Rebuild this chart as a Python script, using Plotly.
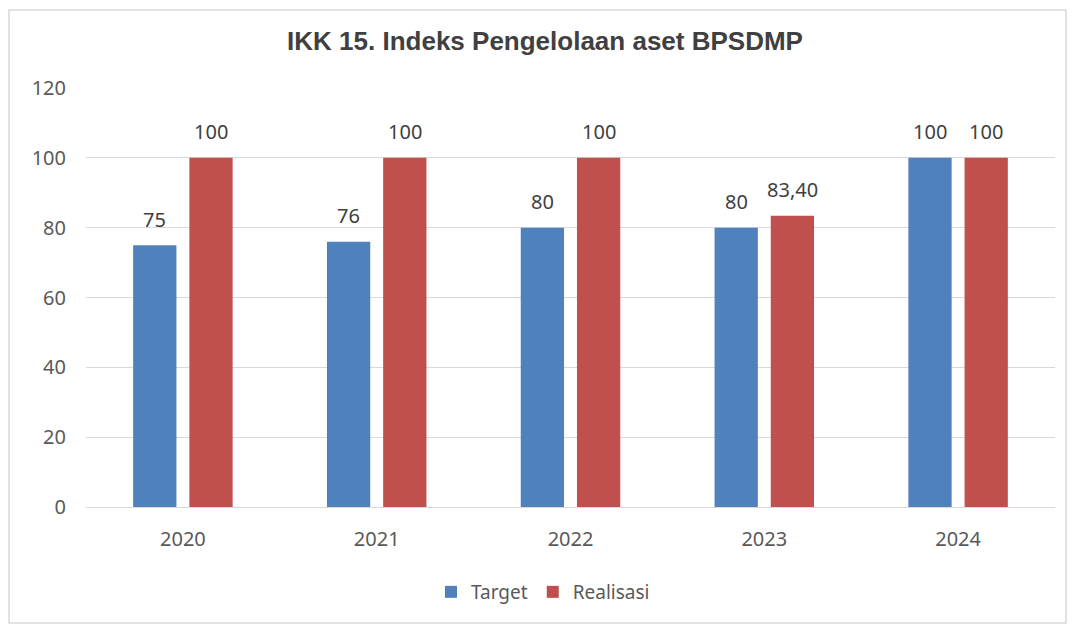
import plotly.graph_objects as go

years = ["2020", "2021", "2022", "2023", "2024"]
target = [75, 76, 80, 80, 100]
realisasi = [100, 100, 100, 83.40, 100]
target_labels = ["75", "76", "80", "80", "100"]
realisasi_labels = ["100", "100", "100", "83,40", "100"]
y_ticks = [0, 20, 40, 60, 80, 100, 120]

BLUE = "#4F81BD"
RED = "#C0504D"
FONT = "Noto Sans"
LABEL_COLOR = "#404040"

# The page body adds an 8px margin; figure coordinates are laid out accordingly.
W, H = 1067, 619
ML, MR, MT, MB = 78, 20, 80, 120
PW, PH = W - ML - MR, H - MT - MB


def px_x(p):
    return (p - ML) / PW


def px_y(p):
    return (H - MB - p) / PH


fig = go.Figure()
fig.add_trace(go.Bar(name="Target", x=years, y=target, marker_color=BLUE,
                     marker_line_width=0))
fig.add_trace(go.Bar(name="Realisasi", x=years, y=realisasi, marker_color=RED,
                     marker_line_width=0))

# Data labels: on a category axis annotations use the category index.
annotations = []
for labels, vals, dx in ((target_labels, target, -28), (realisasi_labels, realisasi, 28)):
    for i, (v, lab) in enumerate(zip(vals, labels)):
        annotations.append(dict(x=i, y=v, xref="x", yref="y", text=lab,
                                showarrow=False, xshift=dx, yshift=26,
                                yanchor="middle", xanchor="center",
                                font=dict(family=FONT, size=20, color=LABEL_COLOR)))

fig.update_layout(
    width=W, height=H,
    margin=dict(l=ML, r=MR, t=MT, b=MB, autoexpand=False),
    paper_bgcolor="white", plot_bgcolor="white",
    barmode="group", bargap=0.42, bargroupgap=0.23,
    title=dict(text="<b>IKK 15. Indeks Pengelolaan aset BPSDMP</b>",
               x=537 / W, xanchor="center", y=1 - 33 / H, yanchor="middle",
               xref="container", yref="container",
               font=dict(family="Liberation Sans", size=26, color="#404040")),
    xaxis=dict(type="category", categoryorder="array", categoryarray=years,
               range=[-0.5, len(years) - 0.5],
               showgrid=False, showline=True, linecolor="#D9D9D9", linewidth=1,
               tickfont=dict(family=FONT, size=20, color="#595959"), ticks="",
               ticklabelstandoff=14, automargin=False),
    yaxis=dict(range=[0, 120], tickvals=y_ticks, showgrid=True,
               gridcolor="#D9D9D9", gridwidth=1, zeroline=False, showline=False,
               tickfont=dict(family=FONT, size=20, color="#595959"),
               ticklabelstandoff=19, automargin=False),
    legend=dict(orientation="h", x=px_x(423), xanchor="left", y=px_y(584), yanchor="middle",
                font=dict(family=FONT, size=19, color="#595959"),
                itemwidth=30, traceorder="normal", bgcolor="rgba(0,0,0,0)"),
    showlegend=True,
    annotations=annotations,
    shapes=[dict(type="rect", xref="paper", yref="paper",
                 x0=px_x(1), x1=px_x(1058), y0=px_y(615), y1=px_y(2),
                 line=dict(color="#D9D9D9", width=1.5), fillcolor="rgba(0,0,0,0)",
                 layer="below")],
)

fig.write_html("out.html")
